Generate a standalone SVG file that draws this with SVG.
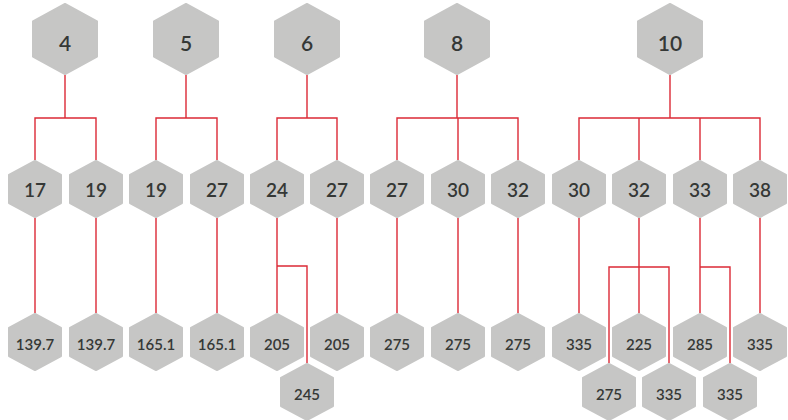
<svg xmlns="http://www.w3.org/2000/svg" xmlns:xlink="http://www.w3.org/1999/xlink" width="788" height="420" viewBox="0 0 788 420">
<style>
.hex{fill:#c6c6c5;stroke:#c6c6c5;stroke-width:2;stroke-linejoin:round}
.t{font-family:Lato,"Liberation Sans",sans-serif;font-weight:600;fill:#353836;text-anchor:middle}
.tl{font-size:21px}
.tm{font-size:19px}
.ts{font-size:15px}
.c{fill:none;stroke:#dc2a36;stroke-width:1.4}
</style>
<defs>
<polygon id="hexL" class="hex" points="0,-35 32,-17.5 32,17.5 0,35 -32,17.5 -32,-17.5"/>
<polygon id="hexM" class="hex" points="0,-28 26,-14 26,14 0,28 -26,14 -26,-14"/>
</defs>
<g id="connectors">
<path class="c" d="M65,75V118M35,160V118H96V160"/>
<path class="c" d="M186,75V118M156,160V118H217V160"/>
<path class="c" d="M307,75V118M277,160V118H337V160"/>
<path class="c" d="M457,75V118M458,118V160M397,160V118H518V160"/>
<path class="c" d="M670,75V118M639,118V160M700,118V160M579,160V118H760V160"/>
<path class="c" d="M35,218V313M96,218V313M156,218V313M217,218V313M277,218V313M337,218V313M397,218V313M458,218V313M518,218V313M579,218V313M639,218V313M700,218V313M760,218V313"/>
<path class="c" d="M277,266H307V363"/>
<path class="c" d="M609,363V267H669V363"/>
<path class="c" d="M700,267H730V363"/>
</g>
<g id="n4"><use xlink:href="#hexL" x="65" y="39"/><text class="t tl" x="65" y="51">4</text></g>
<g id="n5"><use xlink:href="#hexL" x="186" y="39"/><text class="t tl" x="186" y="51">5</text></g>
<g id="n6"><use xlink:href="#hexL" x="307" y="39"/><text class="t tl" x="307" y="51">6</text></g>
<g id="n8"><use xlink:href="#hexL" x="457" y="39"/><text class="t tl" x="457" y="51">8</text></g>
<g id="n10"><use xlink:href="#hexL" x="670" y="39"/><text class="t tl" x="670" y="51">10</text></g>

<g id="m17"><use xlink:href="#hexM" x="35" y="189"/><text class="t tm" x="35" y="197">17</text></g>
<g id="m19a"><use xlink:href="#hexM" x="96" y="189"/><text class="t tm" x="96" y="197">19</text></g>
<g id="m19b"><use xlink:href="#hexM" x="156" y="189"/><text class="t tm" x="156" y="197">19</text></g>
<g id="m27a"><use xlink:href="#hexM" x="217" y="189"/><text class="t tm" x="217" y="197">27</text></g>
<g id="m24"><use xlink:href="#hexM" x="277" y="189"/><text class="t tm" x="277" y="197">24</text></g>
<g id="m27b"><use xlink:href="#hexM" x="337" y="189"/><text class="t tm" x="337" y="197">27</text></g>
<g id="m27c"><use xlink:href="#hexM" x="397" y="189"/><text class="t tm" x="397" y="197">27</text></g>
<g id="m30a"><use xlink:href="#hexM" x="458" y="189"/><text class="t tm" x="458" y="197">30</text></g>
<g id="m32a"><use xlink:href="#hexM" x="518" y="189"/><text class="t tm" x="518" y="197">32</text></g>
<g id="m30b"><use xlink:href="#hexM" x="579" y="189"/><text class="t tm" x="579" y="197">30</text></g>
<g id="m32b"><use xlink:href="#hexM" x="639" y="189"/><text class="t tm" x="639" y="197">32</text></g>
<g id="m33"><use xlink:href="#hexM" x="700" y="189"/><text class="t tm" x="700" y="197">33</text></g>
<g id="m38"><use xlink:href="#hexM" x="760" y="189"/><text class="t tm" x="760" y="197">38</text></g>

<g id="b1"><use xlink:href="#hexM" x="35" y="342"/><text class="t ts" x="35" y="350">139.7</text></g>
<g id="b2"><use xlink:href="#hexM" x="96" y="342"/><text class="t ts" x="96" y="350">139.7</text></g>
<g id="b3"><use xlink:href="#hexM" x="156" y="342"/><text class="t ts" x="156" y="350">165.1</text></g>
<g id="b4"><use xlink:href="#hexM" x="217" y="342"/><text class="t ts" x="217" y="350">165.1</text></g>
<g id="b5"><use xlink:href="#hexM" x="277" y="342"/><text class="t ts" x="277" y="350">205</text></g>
<g id="b6"><use xlink:href="#hexM" x="337" y="342"/><text class="t ts" x="337" y="350">205</text></g>
<g id="b7"><use xlink:href="#hexM" x="397" y="342"/><text class="t ts" x="397" y="350">275</text></g>
<g id="b8"><use xlink:href="#hexM" x="458" y="342"/><text class="t ts" x="458" y="350">275</text></g>
<g id="b9"><use xlink:href="#hexM" x="518" y="342"/><text class="t ts" x="518" y="350">275</text></g>
<g id="b10"><use xlink:href="#hexM" x="579" y="342"/><text class="t ts" x="579" y="350">335</text></g>
<g id="b11"><use xlink:href="#hexM" x="639" y="342"/><text class="t ts" x="639" y="350">225</text></g>
<g id="b12"><use xlink:href="#hexM" x="700" y="342"/><text class="t ts" x="700" y="350">285</text></g>
<g id="b13"><use xlink:href="#hexM" x="760" y="342"/><text class="t ts" x="760" y="350">335</text></g>

<g id="c1"><use xlink:href="#hexM" x="307" y="392"/><text class="t ts" x="307" y="400">245</text></g>
<g id="c2"><use xlink:href="#hexM" x="609" y="392"/><text class="t ts" x="609" y="400">275</text></g>
<g id="c3"><use xlink:href="#hexM" x="669" y="392"/><text class="t ts" x="669" y="400">335</text></g>
<g id="c4"><use xlink:href="#hexM" x="730" y="392"/><text class="t ts" x="730" y="400">335</text></g>
</svg>
